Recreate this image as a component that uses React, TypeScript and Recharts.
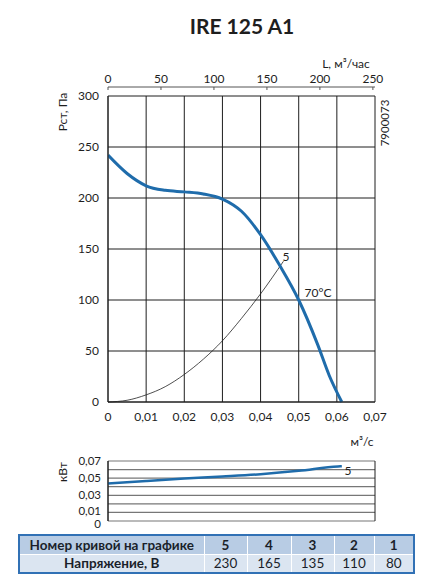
import React from "react";
import { LineChart, Line, XAxis, YAxis, CartesianGrid } from "recharts";

// axes
const flowTicks = [0, 0.01, 0.02, 0.03, 0.04, 0.05, 0.06, 0.07];
const pressureTicks = [0, 50, 100, 150, 200, 250, 300];
const hourTicks = [0, 50, 100, 150, 200, 250];
const powerTicks = [0, 0.01, 0.02, 0.03, 0.04, 0.05, 0.06, 0.07];
const powerLabels = [0, 0.01, 0.03, 0.05, 0.07];

// fan curve 5 (230 V), Pa vs m3/s
const fanQ = [0, 0.005, 0.01, 0.015, 0.02, 0.025, 0.03, 0.035, 0.04, 0.045, 0.05, 0.055, 0.058, 0.0613];
const fanP = [242, 224, 212, 207.5, 206, 204, 199, 187, 164, 134, 100, 56, 26, 0];

// network (system) curve
const sysQ = [0, 0.005, 0.01, 0.015, 0.02, 0.025, 0.03, 0.035, 0.04, 0.046];
const sysP = [0, 1.7, 7, 15, 27, 42, 60, 82, 106, 138];

// power, kW
const powQ = [0, 0.01, 0.02, 0.03, 0.04, 0.05, 0.0603, 0.0613];
const powW = [0.0437, 0.0467, 0.0495, 0.0519, 0.0546, 0.0585, 0.0637, 0.0639];

// table
const curveNumbers = ["5", "4", "3", "2", "1"];
const voltages = ["230", "165", "135", "110", "80"];

const fanData = fanQ.map((q, i) => ({ q, p: fanP[i] }));
const sysData = sysQ.map((q, i) => ({ q, p: sysP[i] }));
const powData = powQ.map((q, i) => ({ q, w: powW[i] }));
const hourData = hourTicks.map((l) => ({ l }));

const FONT = "Lato, 'Open Sans', sans-serif";
const INK = "#1e1e1e";
const BLUE = "#1f6cab";
const fmt = (v: number) => String(v).replace(".", ",");
const tickStyle = { fontSize: 12, fill: INK, fontFamily: FONT };

// power axis labels sit tight, nudge the lowest two apart like the original
const PowerTick = ({ x, y, payload }: any) => {
  const v = payload.value;
  if (!powerLabels.includes(v)) return null;
  const shift = v === 0 ? 2.5 : v === 0.01 ? -1.5 : 0;
  return (
    <text
      x={x}
      y={y + shift}
      dy="0.35em"
      textAnchor="end"
      fontSize={11.5}
      fill={INK}
      fontFamily={FONT}
    >
      {fmt(v)}
    </text>
  );
};

const Note = ({ x, y, size = 12, rotate = 0, bold = false, children }: any) => (
  <div
    style={{
      position: "absolute",
      left: x,
      top: y,
      transform: `translate(-50%, -50%) rotate(${rotate}deg)`,
      fontSize: size,
      fontWeight: bold ? 700 : 400,
      whiteSpace: "nowrap",
      color: INK,
      lineHeight: 1,
    }}
  >
    {children}
  </div>
);

const cell = (extra: any = {}) => ({
  borderRight: "1.5px solid #ffffff",
  textAlign: "center" as const,
  padding: 0,
  fontSize: 13.5,
  color: "#1a1f2a",
  whiteSpace: "nowrap" as const,
  ...extra,
});

export default function App() {
  return (
    <div
      style={{
        position: "absolute",
        left: 0,
        top: 0,
        width: 434,
        height: 586,
        background: "#fff",
        fontFamily: FONT,
      }}
    >
      {/* main pressure chart */}
      <div style={{ position: "absolute", left: 0, top: 0 }}>
        <LineChart width={434} height={460} margin={{ top: 96, right: 59, bottom: 28, left: 68 }}>
          <CartesianGrid stroke={INK} strokeWidth={1} />
          <XAxis
            type="number"
            dataKey="q"
            domain={[0, 0.07]}
            ticks={flowTicks}
            interval={0}
            tickFormatter={fmt}
            tickLine={false}
            tickSize={0}
            tickMargin={10}
            axisLine={{ stroke: INK }}
            tick={tickStyle}
            height={30}
            allowDataOverflow
          />
          <YAxis
            type="number"
            domain={[0, 300]}
            ticks={pressureTicks}
            interval={0}
            tickLine={false}
            tickSize={0}
            tickMargin={9}
            axisLine={{ stroke: INK }}
            tick={tickStyle}
            width={40}
          />
          <Line
            data={sysData}
            dataKey="p"
            type="monotone"
            stroke="#222"
            strokeWidth={0.8}
            dot={false}
            isAnimationActive={false}
          />
          <Line
            data={fanData}
            dataKey="p"
            type="monotone"
            stroke={BLUE}
            strokeWidth={3}
            dot={false}
            isAnimationActive={false}
          />
        </LineChart>
      </div>

      {/* top axis, m3/h */}
      <div style={{ position: "absolute", left: 0, top: 0 }}>
        <LineChart width={434} height={95} data={hourData} margin={{ top: 57, right: 59, bottom: 0, left: 108 }}>
          <XAxis
            type="number"
            dataKey="l"
            orientation="top"
            domain={[0, 252]}
            ticks={hourTicks}
            interval={0}
            tickSize={-3}
            tickMargin={7}
            tickLine={{ stroke: "#555" }}
            axisLine={{ stroke: "#555" }}
            tick={tickStyle}
            height={30}
          />
          <YAxis hide />
        </LineChart>
      </div>

      {/* power chart */}
      <div style={{ position: "absolute", left: 0, top: 440 }}>
        <LineChart width={434} height={100} margin={{ top: 21, right: 59, bottom: 19, left: 68 }}>
          <CartesianGrid vertical={false} stroke="#777" strokeWidth={1.2} />
          <CartesianGrid horizontal={false} stroke={INK} strokeWidth={1} />
          <XAxis
            type="number"
            dataKey="q"
            domain={[0, 0.07]}
            ticks={flowTicks}
            interval={0}
            tick={false}
            tickLine={false}
            axisLine={{ stroke: INK }}
            height={0}
          />
          <YAxis
            type="number"
            domain={[0, 0.07]}
            ticks={powerTicks}
            interval={0}
            tickLine={false}
            tickSize={0}
            tickMargin={7}
            axisLine={{ stroke: INK }}
            tick={<PowerTick />}
            width={40}
          />
          <Line
            data={powData}
            dataKey="w"
            type="monotone"
            stroke={BLUE}
            strokeWidth={2.5}
            dot={false}
            isAnimationActive={false}
          />
        </LineChart>
      </div>

      {/* texts */}
      <Note x={242} y={25} size={21} bold>
        IRE 125 A1
      </Note>
      <Note x={346} y={64} size={12}>
        L, м³/час
      </Note>
      <Note x={63} y={112} size={12} rotate={-90}>
        Рст, Па
      </Note>
      <Note x={385} y={123} size={11.5} rotate={-90}>
        7900073
      </Note>
      <Note x={286} y={257} size={12}>
        5
      </Note>
      <Note x={318} y={293} size={12}>
        70°C
      </Note>
      <Note x={362} y={442} size={12}>
        м³/с
      </Note>
      <Note x={63} y={472} size={12} rotate={-90}>
        кВт
      </Note>
      <Note x={348} y={471} size={12}>
        5
      </Note>

      {/* voltage table */}
      <div
        style={{
          position: "absolute",
          left: 18,
          top: 534,
          width: 397,
          height: 40,
          boxSizing: "border-box",
          border: "2px solid #3171b5",
        }}
      >
        <table
          style={{
            borderCollapse: "collapse",
            width: "100%",
            height: "100%",
            tableLayout: "fixed",
            fontFamily: FONT,
          }}
        >
          <colgroup>
            <col style={{ width: 184 }} />
            <col style={{ width: 43 }} />
            <col style={{ width: 44 }} />
            <col style={{ width: 43 }} />
            <col style={{ width: 40 }} />
            <col />
          </colgroup>
          <tbody>
            <tr style={{ background: "#b8cce4", borderBottom: "1.5px solid #ffffff" }}>
              <td style={cell({ fontWeight: 700 })}>Номер кривой на графике</td>
              {curveNumbers.map((n, i) => (
                <td key={n} style={cell({ fontWeight: 700, borderRight: i === 4 ? "none" : "1.5px solid #fff" })}>
                  {n}
                </td>
              ))}
            </tr>
            <tr style={{ background: "#dbe5f1" }}>
              <td style={cell({ fontWeight: 700 })}>Напряжение, В</td>
              {voltages.map((v, i) => (
                <td key={v} style={cell({ borderRight: i === 4 ? "none" : "1.5px solid #fff" })}>
                  {v}
                </td>
              ))}
            </tr>
          </tbody>
        </table>
      </div>
    </div>
  );
}
